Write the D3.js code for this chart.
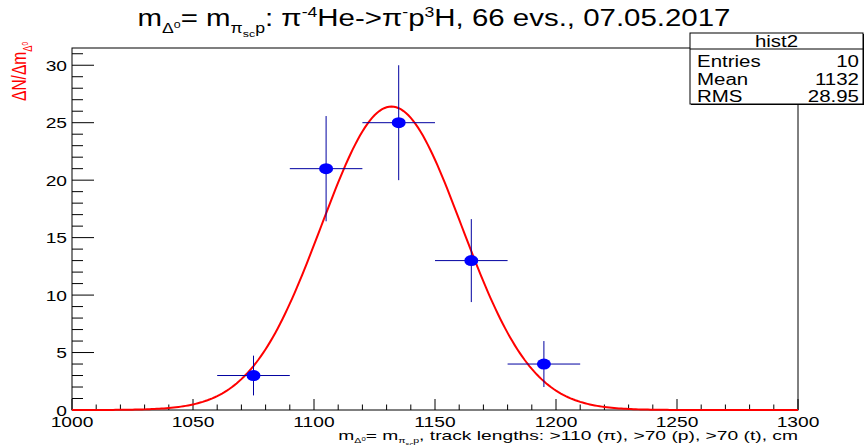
<!DOCTYPE html>
<html>
<head>
<meta charset="utf-8">
<script src="https://cdn.jsdelivr.net/npm/d3@7"></script>
<style>
  body { margin: 0; background: #fff; }
  text { font-family: "Liberation Sans", Arial, sans-serif; }
</style>
</head>
<body>
<div id="chart"></div>
<script>
// Histogram data (bin centres, counts, errors)
const binCenters = [1075, 1105, 1135, 1165, 1195];
const counts = [3, 21, 25, 13, 4];
const countErrors = [1.73, 4.58, 5.0, 3.61, 2.0];
const binWidth = 30;

// Gaussian fit parameters
const fitAmplitude = 26.4;
const fitMean = 1132;
const fitSigma = 29;

// Axis ticks
const xTicks = [1000, 1050, 1100, 1150, 1200, 1250, 1300];
const yTicks = [0, 5, 10, 15, 20, 25, 30];

// Stats box
const statsName = "hist2";
const statsLabels = ["Entries", "Mean", "RMS"];
const statsValues = ["10", "1132", "28.95"];

const width = 866;
const height = 445;
const marginLeft = 72;
const marginRight = 68;
const marginTop = 48;
const marginBottom = 35;
const stretch = 1.28; // the picture is stretched horizontally

const svg = d3.select("#chart")
    .append("svg")
    .attr("width", width)
    .attr("height", height);

const x = d3.scaleLinear()
    .domain([1000, 1300])
    .range([marginLeft, width - marginRight]);

const y = d3.scaleLinear()
    .domain([0, 31.5])
    .range([height - marginBottom, marginTop]);

// text with sub/superscripts, stretched like the picture
function richText(parent, px, py, base, segs, anchor, rotate, sx = stretch) {
    const g = parent.append("g")
        .attr("transform", `translate(${px},${py}) scale(${sx},1)` + (rotate ? " rotate(-90)" : ""));
    const t = g.append("text").attr("text-anchor", anchor).attr("font-size", base);
    let prev = 0;
    segs.forEach(([s, off, size]) => {
        t.append("tspan")
            .attr("dy", (off - prev) * base)
            .attr("font-size", size * base)
            .text(s);
        prev = off;
    });
    return t;
}

// Frame
svg.append("rect")
    .attr("x", marginLeft)
    .attr("y", marginTop)
    .attr("width", width - marginLeft - marginRight)
    .attr("height", height - marginTop - marginBottom)
    .attr("fill", "none")
    .attr("stroke", "#000")
    .attr("stroke-width", 1);

// X ticks (inside, minor every 10)
const x0 = height - marginBottom;
svg.append("g").selectAll("line")
    .data(d3.range(1000, 1301, 10))
    .join("line")
    .attr("x1", d => x(d)).attr("x2", d => x(d))
    .attr("y1", x0)
    .attr("y2", d => x0 - (d % 50 === 0 ? 11 : 5.5))
    .attr("stroke", "#000");

// Y ticks (inside, minor every 1)
svg.append("g").selectAll("line")
    .data(d3.range(0, 31.5, 1))
    .join("line")
    .attr("x1", marginLeft)
    .attr("x2", d => marginLeft + (d % 5 === 0 ? 22 : 11))
    .attr("y1", d => y(d)).attr("y2", d => y(d))
    .attr("stroke", "#000");

// Tick labels
xTicks.forEach(d => {
    richText(svg, x(d), 427, 15, [[String(d), 0, 1]], "middle");
});
yTicks.forEach(d => {
    richText(svg, marginLeft - 5, y(d) + 5.5, 15, [[String(d), 0, 1]], "end");
});

// Fit curve
const fitLine = d3.line()
    .x(d => x(d))
    .y(d => y(fitAmplitude * Math.exp(-0.5 * ((d - fitMean) / fitSigma) ** 2)));

svg.append("path")
    .datum(d3.range(1000, 1300.5, 1))
    .attr("fill", "none")
    .attr("stroke", "#ff0000")
    .attr("stroke-width", 2)
    .attr("d", fitLine);

// Error bars
const bars = svg.append("g").attr("stroke", "#0000a0").attr("stroke-width", 1);
binCenters.forEach((c, i) => {
    bars.append("line")
        .attr("x1", x(c - binWidth / 2)).attr("x2", x(c + binWidth / 2))
        .attr("y1", y(counts[i])).attr("y2", y(counts[i]));
    bars.append("line")
        .attr("x1", x(c)).attr("x2", x(c))
        .attr("y1", y(counts[i] - countErrors[i])).attr("y2", y(counts[i] + countErrors[i]));
});

// Markers
svg.append("g").selectAll("ellipse")
    .data(binCenters)
    .join("ellipse")
    .attr("cx", d => x(d))
    .attr("cy", (d, i) => y(counts[i]))
    .attr("rx", 7)
    .attr("ry", 5.5)
    .attr("fill", "#0000ff");

// Title
richText(svg, 434, 26, 23, [
    ["m", 0, 1], ["Δ", 0.3, 0.6], ["0", 0.1, 0.42],
    ["= m", 0, 1], ["π", 0.3, 0.6], ["sc", 0.5, 0.42], ["p", 0.3, 0.6],
    [": π", 0, 1], ["-4", -0.4, 0.6], ["He->π", 0, 1], ["-", -0.4, 0.6],
    ["p", 0, 1], ["3", -0.4, 0.6], ["H, 66 evs., 07.05.2017", 0, 1]
], "middle");

// Y axis title
richText(svg, 26, 42, 15.5, [
    ["ΔN/Δm", 0, 1], ["Δ", 0.3, 0.6], ["0", 0.1, 0.42]
], "end", true).attr("fill", "#ff0000");

// X axis title
richText(svg, width - marginRight, 439.5, 13, [
    ["m", 0, 1], ["Δ", 0.3, 0.55], ["0", 0.1, 0.4],
    ["= m", 0, 1], ["π", 0.3, 0.55], ["sc", 0.5, 0.4], ["p", 0.3, 0.55],
    [", track lengths: >110 (π), >70 (p), >70 (t), cm", 0, 1]
], "end", false, 1.48);

// Stats box
const bx = 690, by = 33, bw = 173, bh = 71;
svg.append("rect")
    .attr("x", bx + 1).attr("y", by + 1)
    .attr("width", bw).attr("height", bh)
    .attr("fill", "#000");
svg.append("rect")
    .attr("x", bx).attr("y", by)
    .attr("width", bw).attr("height", bh)
    .attr("fill", "#fff")
    .attr("stroke", "#000");
svg.append("line")
    .attr("x1", bx).attr("x2", bx + bw)
    .attr("y1", by + 16).attr("y2", by + 16)
    .attr("stroke", "#000");
richText(svg, bx + bw / 2, by + 13.5, 16, [[statsName, 0, 1]], "middle");
statsLabels.forEach((s, i) => {
    richText(svg, bx + 7, by + 34 + i * 17.5, 16, [[s, 0, 1]], "start");
    richText(svg, bx + bw - 4, by + 34 + i * 17.5, 16, [[statsValues[i], 0, 1]], "end");
});
</script>
</body>
</html>
